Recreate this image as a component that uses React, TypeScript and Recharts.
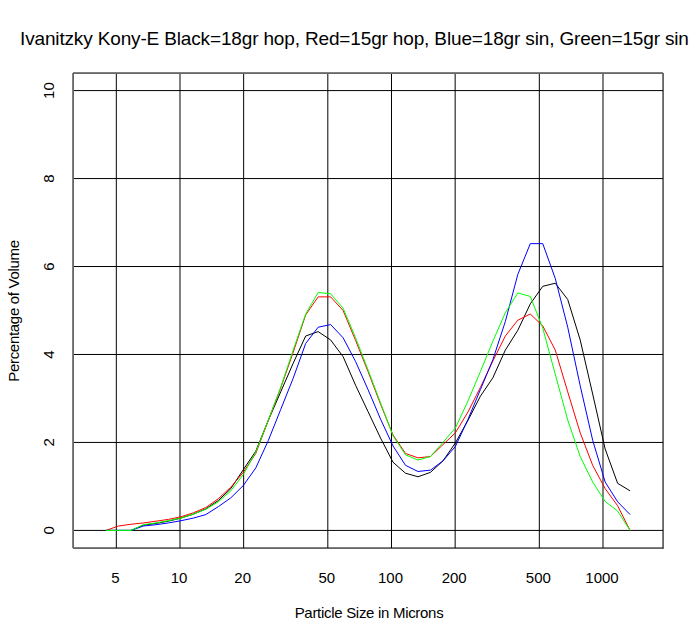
import React from 'react';
import { LineChart, Line, XAxis, YAxis, CartesianGrid } from 'recharts';

// particle size classes (microns)
const sizes = [4.47, 5.12, 5.87, 6.72, 7.7, 8.82, 10.1, 11.57, 13.25, 15.18, 17.39, 19.92, 22.82, 26.14, 29.94, 34.3, 39.29, 45.01, 51.56, 59.06, 67.65, 77.5, 88.77, 101.7, 116.5, 133.4, 152.9, 175.1, 200.6, 229.8, 263.2, 301.5, 345.4, 395.6, 453.2, 519.1, 594.7, 681.2, 780.3, 893.9, 1024, 1173, 1343];

// % of volume per class
const black18hop = [0, 0, 0, 0.12, 0.16, 0.21, 0.28, 0.37, 0.49, 0.68, 0.95, 1.38, 1.8, 2.5, 3.15, 3.8, 4.42, 4.52, 4.33, 3.95, 3.3, 2.7, 2.1, 1.55, 1.3, 1.22, 1.32, 1.58, 1.99, 2.5, 3.05, 3.47, 4.1, 4.55, 5.15, 5.55, 5.62, 5.25, 4.33, 3.1, 1.85, 1.07, 0.9];
const red15hop = [0, 0.1, 0.14, 0.17, 0.21, 0.25, 0.31, 0.4, 0.52, 0.72, 0.98, 1.32, 1.75, 2.5, 3.24, 4.05, 4.9, 5.31, 5.31, 5.0, 4.32, 3.61, 2.87, 2.17, 1.75, 1.65, 1.68, 1.95, 2.22, 2.69, 3.25, 3.85, 4.42, 4.78, 4.92, 4.65, 4.1, 3.15, 2.22, 1.48, 0.95, 0.56, 0];
const blue18sin = [0, 0, 0, 0.1, 0.13, 0.17, 0.22, 0.28, 0.36, 0.54, 0.74, 1.02, 1.42, 2.04, 2.75, 3.46, 4.25, 4.62, 4.68, 4.38, 3.84, 3.2, 2.53, 1.92, 1.48, 1.34, 1.37, 1.58, 1.91, 2.52, 3.2, 3.88, 4.75, 5.82, 6.52, 6.52, 5.73, 4.62, 3.29, 2.05, 1.1, 0.65, 0.36];
const green15sin = [0, 0, 0, 0.13, 0.17, 0.22, 0.28, 0.37, 0.48, 0.65, 0.9, 1.27, 1.78, 2.5, 3.25, 4.1, 4.92, 5.41, 5.38, 5.05, 4.38, 3.65, 2.9, 2.15, 1.72, 1.6, 1.68, 2.0, 2.33, 2.94, 3.61, 4.3, 4.95, 5.4, 5.32, 4.6, 3.55, 2.51, 1.68, 1.1, 0.66, 0.44, 0];

const xTicks = [5, 10, 20, 50, 100, 200, 500, 1000];
const yTicks = [0, 2, 4, 6, 8, 10];

const data = sizes.map((s, i) => ({
  size: s,
  black: black18hop[i],
  red: red15hop[i],
  blue: blue18sin[i],
  green: green15sin[i],
}));

const FONT = '"Liberation Sans", Arial, sans-serif';

const XTick = (props: any) => (
  <text x={props.x - 1} y={583} textAnchor="middle" fontFamily={FONT} fontSize={15} fill="#000">
    {props.payload.value}
  </text>
);

const YTick = (props: any) => (
  <text
    transform={`translate(54, ${props.y}) rotate(-90)`}
    textAnchor="middle"
    fontFamily={FONT}
    fontSize={15}
    fill="#000"
  >
    {props.payload.value}
  </text>
);

const App: React.FC = () => {
  return (
    <div style={{ position: 'absolute', left: 0, top: 0, width: 700, height: 638, background: '#fff' }}>
      <LineChart width={700} height={638} data={data} margin={{ top: 73, right: 37, bottom: 0, left: 0 }}>
        <CartesianGrid stroke="#000" strokeWidth={1} />
        <XAxis
          dataKey="size"
          type="number"
          scale="log"
          domain={[3.12, 1922]}
          allowDataOverflow
          ticks={xTicks}
          tick={<XTick />}
          axisLine={false}
          tickLine={false}
          height={90}
        />
        <YAxis
          type="number"
          domain={[-0.4, 10.4]}
          allowDataOverflow
          ticks={yTicks}
          tick={<YTick />}
          axisLine={false}
          tickLine={false}
          width={73}
        />
        <Line type="linear" dataKey="black" stroke="#000000" strokeWidth={1} dot={false} isAnimationActive={false} />
        <Line type="linear" dataKey="red" stroke="#ff0000" strokeWidth={1} dot={false} isAnimationActive={false} />
        <Line type="linear" dataKey="blue" stroke="#0000ff" strokeWidth={1} dot={false} isAnimationActive={false} />
        <Line type="linear" dataKey="green" stroke="#00ff00" strokeWidth={1} dot={false} isAnimationActive={false} />
      </LineChart>
      <svg width={700} height={638} style={{ position: 'absolute', left: 0, top: 0, pointerEvents: 'none' }}>
        <rect x={73.5} y={73.5} width={590} height={475} fill="none" stroke="#666" strokeWidth={1} />
        <text x={20} y={45} textAnchor="start" fontFamily={FONT} fontSize={19} letterSpacing={-0.15} fill="#000">
          Ivanitzky Kony-E Black=18gr hop, Red=15gr hop, Blue=18gr sin, Green=15gr sin
        </text>
        <text x={369} y={618} textAnchor="middle" fontFamily={FONT} fontSize={15} letterSpacing={-0.3} fill="#000">
          Particle Size in Microns
        </text>
        <text
          transform="translate(19, 311) rotate(-90)"
          textAnchor="middle"
          fontFamily={FONT}
          fontSize={15}
          letterSpacing={-0.3}
          fill="#000"
        >
          Percentage of Volume
        </text>
      </svg>
    </div>
  );
};

export default App;
